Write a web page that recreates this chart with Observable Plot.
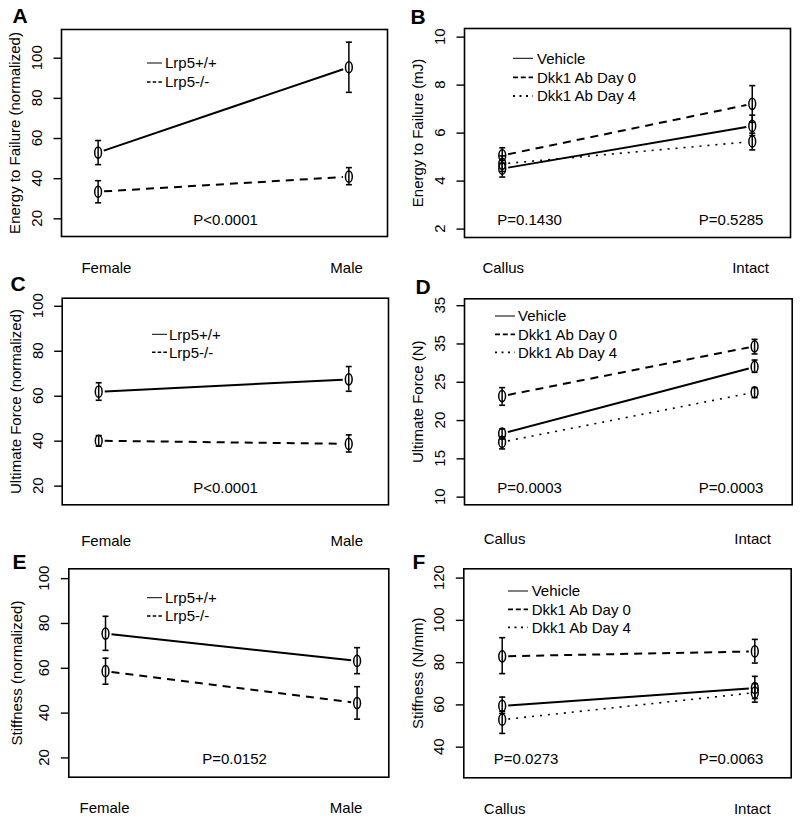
<!DOCTYPE html>
<html><head><meta charset="utf-8">
<script src="https://cdn.jsdelivr.net/npm/d3@7"></script>
<script src="https://cdn.jsdelivr.net/npm/@observablehq/plot@0.6"></script>
<style>
body{margin:0;background:#fff;}
#root{position:relative;width:800px;height:823px;overflow:hidden;font-family:Arial,"Liberation Sans",Helvetica,sans-serif;}
.panel{position:absolute;}
</style>
</head><body><div id="root"></div>
<script>
// ---------------- DATA ----------------
const sexGroups = ["Female", "Male"];
const siteGroups = ["Callus", "Intact"];
const lrpSeries = ["Lrp5+/+", "Lrp5-/-"];
const dkkSeries = ["Vehicle", "Dkk1 Ab Day 0", "Dkk1 Ab Day 4"];

// A: Energy to failure (normalized)
const energyWT = [53, 95.5], energyWTLo = [47, 83], energyWTHi = [59, 108];
const energyKO = [33.5, 41], energyKOLo = [28, 37], energyKOHi = [39, 45.5];
// C: Ultimate force (normalized)
const forceWT = [62, 67.5], forceWTLo = [58.2, 62.2], forceWTHi = [66, 73.2];
const forceKO = [40.2, 38.8], forceKOLo = [37.8, 35.2], forceKOHi = [42.5, 42.8];
// E: Stiffness (normalized)
const stiffWT = [75.5, 63.3], stiffWTLo = [68, 57.6], stiffWTHi = [83.2, 69.2];
const stiffKO = [58.7, 44.5], stiffKOLo = [52.9, 37.3], stiffKOHi = [64.5, 51.8];

// B: Energy to failure (mJ)
const energyVeh = [4.52, 6.3], energyVehLo = [4.17, 5.9], energyVehHi = [4.87, 6.75];
const energyD0 = [5.07, 7.22], energyD0Lo = [4.75, 6.45], energyD0Hi = [5.39, 7.98];
const energyD4 = [4.72, 5.65], energyD4Lo = [4.4, 5.3], energyD4Hi = [5.05, 6.0];
// D: Ultimate force (N)
const forceVeh = [18.3, 27.0], forceVehLo = [17.6, 26.3], forceVehHi = [18.9, 27.9];
const forceD0 = [23.2, 29.7], forceD0Lo = [22.0, 28.7], forceD0Hi = [24.3, 30.6];
const forceD4 = [17.2, 23.7], forceD4Lo = [16.3, 23.0], forceD4Hi = [17.9, 24.3];
// F: Stiffness (N/mm)
const stiffVeh = [59.5, 68], stiffVehLo = [56, 63], stiffVehHi = [63.7, 73.5];
const stiffD0 = [83, 85.3], stiffD0Lo = [74.8, 79.8], stiffD0Hi = [91.8, 91];
const stiffD4 = [53, 65.8], stiffD4Lo = [46.5, 61.3], stiffD4Hi = [57, 70];

// Tick labels
const ticksNorm = [20, 40, 60, 80, 100];
const ticksNormLabels = ["20", "40", "60", "80", "100"];
const ticksB = [2, 4, 6, 8, 10];
const ticksBLabels = ["2", "4", "6", "8", "10"];
const ticksD = [10, 15, 20, 25, 30, 35];
const ticksDLabels = ["10", "15", "20", "25", "35", "35"];
const ticksF = [40, 60, 80, 100, 120];
const ticksFLabels = ["40", "60", "80", "100", "120"];

// P-values
const pA = ["P<0.0001"];
const pB = ["P=0.1430", "P=0.5285"];
const pC = ["P<0.0001"];
const pD = ["P=0.0003", "P=0.0003"];
const pE = ["P=0.0152"];
const pF = ["P=0.0273", "P=0.0063"];

// ---------------- STYLES ----------------
const lrpStyles = [
  {w: 2, dash: null, lw: 1, ldash: null},
  {w: 2, dash: "8,6", lw: 1.6, ldash: "3.5,2.2"}
];
const dkkStyles = [
  {w: 2, dash: null, lw: 1, ldash: null},
  {w: 2, dash: "8,6", lw: 1.8, ldash: "5,2.8"},
  {w: 1.6, dash: "2,6", lw: 1.8, ldash: "2,4.5"}
];

const K = 0.5523;
const ellipseSym = {draw(ctx) {
  const rx = 3.4, ry = 5.6;
  ctx.moveTo(rx, 0);
  ctx.bezierCurveTo(rx, ry * K, rx * K, ry, 0, ry);
  ctx.bezierCurveTo(-rx * K, ry, -rx, ry * K, -rx, 0);
  ctx.bezierCurveTo(-rx, -ry * K, -rx * K, -ry, 0, -ry);
  ctx.bezierCurveTo(rx * K, -ry, rx, -ry * K, rx, 0);
  ctx.closePath();
}};
const capSym = {draw(ctx) { ctx.moveTo(-3, 0); ctx.lineTo(3, 0); }};
const yTickSym = {draw(ctx) { ctx.moveTo(-8, 0); ctx.lineTo(0, 0); }};

function mk(names, means, los, his) {
  return names.map((n, i) => ({name: n, mean: means[i], lo: los[i], hi: his[i]}));
}

const panels = [
  {letter: "A", left: 0, top: 0, H: 275, m: [29, 13, 39, 61], groups: sexGroups,
   series: mk(lrpSeries, [energyWT, energyKO], [energyWTLo, energyKOLo], [energyWTHi, energyKOHi]), styles: lrpStyles,
   yLabel: "Energy to Failure (normalized)", yDomain: [11.2, 114.3], xDomain: [0.854, 2.154],
   ticks: ticksNorm, tickLabels: ticksNormLabels, tickDx: -24.3, titleDx: -46,
   xLabelDy: 25.7, xLabelDx: [8.3, -2.3], legend: {x0: 147, x1: 162, tx: 165, rows: [63, 82]},
   p: pA, pPos: [{x: 225, y: 224, anchor: "middle"}], letterX: 12, letterY: 22.5},
  {letter: "B", left: 400, top: 0, H: 275, m: [28, 10, 38, 64], groups: siteGroups,
   series: mk(dkkSeries, [energyVeh, energyD0, energyD4], [energyVehLo, energyD0Lo, energyD4Lo], [energyVehHi, energyD0Hi, energyD4Hi]), styles: dkkStyles,
   yLabel: "Energy to Failure (mJ)", yDomain: [1.65, 10.36], xDomain: [0.849, 2.153],
   ticks: ticksB, tickLabels: ticksBLabels, tickDx: -24.3, titleDx: -46,
   xLabelDy: 24.7, xLabelDx: [1, -1.7], legend: {x0: 113, x1: 133, tx: 137, rows: [58.3, 77.3, 96]},
   p: pB, pPos: [{x: 96.7, y: 224, anchor: "start"}, {x: 298.3, y: 224, anchor: "start"}], letterX: 10, letterY: 23.3},
  {letter: "C", left: 0, top: 275, H: 275, m: [22.7, 12, 45.7, 61.7], groups: sexGroups,
   series: mk(lrpSeries, [forceWT, forceKO], [forceWTLo, forceKOLo], [forceWTHi, forceKOHi]), styles: lrpStyles,
   yLabel: "Ultimate Force (normalized)", yDomain: [11.7, 103.6], xDomain: [0.854, 2.159],
   ticks: ticksNorm, tickLabels: ticksNormLabels, tickDx: -24.3, titleDx: -46,
   xLabelDy: 30.7, xLabelDx: [7.5, -2], legend: {x0: 152, x1: 167, tx: 169, rows: [59.3, 77.3]},
   p: pC, pPos: [{x: 225, y: 217.3, anchor: "middle"}], letterX: 10, letterY: 15},
  {letter: "D", left: 400, top: 275, H: 275, m: [23.3, 8.3, 45.7, 64], groups: siteGroups,
   series: mk(dkkSeries, [forceVeh, forceD0, forceD4], [forceVehLo, forceD0Lo, forceD4Lo], [forceVehHi, forceD0Hi, forceD4Hi]), styles: dkkStyles,
   yLabel: "Ultimate Force (N)", yDomain: [9.0, 35.9], xDomain: [0.851, 2.149],
   ticks: ticksD, tickLabels: ticksDLabels, tickDx: -24.3, titleDx: -46,
   xLabelDy: 29, xLabelDx: [2.5, -2], legend: {x0: 95, x1: 115, tx: 118, rows: [41, 59.3, 77.3]},
   p: pD, pPos: [{x: 96.7, y: 217.3, anchor: "start"}, {x: 298.3, y: 217.3, anchor: "start"}], letterX: 15, letterY: 18.3},
  {letter: "E", left: 0, top: 550, H: 273, m: [18.3, 11.7, 46.3, 68.3], groups: sexGroups,
   series: mk(lrpSeries, [stiffWT, stiffKO], [stiffWTLo, stiffKOLo], [stiffWTHi, stiffKOHi]), styles: lrpStyles,
   yLabel: "Stiffness (normalized)", yDomain: [11.4, 104.4], xDomain: [0.854, 2.126],
   ticks: ticksNorm, tickLabels: ticksNormLabels, tickDx: -24.3, titleDx: -52,
   xLabelDy: 25, xLabelDx: [-1, -11], legend: {x0: 147, x1: 162, tx: 165, rows: [47.7, 66]},
   p: pE, pPos: [{x: 234, y: 213.3, anchor: "middle"}], letterX: 12, letterY: 18.3},
  {letter: "F", left: 400, top: 550, H: 273, m: [18.3, 9.3, 45.7, 63.3], groups: siteGroups,
   series: mk(dkkSeries, [stiffVeh, stiffD0, stiffD4], [stiffVehLo, stiffD0Lo, stiffD4Lo], [stiffVehHi, stiffD0Hi, stiffD4Hi]), styles: dkkStyles,
   yLabel: "Stiffness (N/mm)", yDomain: [25.5, 124.4], xDomain: [0.848, 2.144],
   ticks: ticksF, tickLabels: ticksFLabels, tickDx: -24.3, titleDx: -46,
   xLabelDy: 26, xLabelDx: [2.5, -2.6], legend: {x0: 108, x1: 128, tx: 131.7, rows: [41, 59.3, 77.3]},
   p: pF, pPos: [{x: 93.3, y: 213.3, anchor: "start"}, {x: 298.3, y: 213.3, anchor: "start"}], letterX: 12, letterY: 18.3}
];

function makePanel(cfg) {
  const [mt, mr, mb, ml] = cfg.m;
  const H = cfg.H;
  const rows = [];
  cfg.series.forEach((s, si) => s.mean.forEach((v, i) => rows.push({si, x: i + 1, mean: v, lo: s.lo[i], hi: s.hi[i]})));
  const tickRows = cfg.ticks.map((v, i) => ({v, label: cfg.tickLabels[i]}));
  const marks = [
    Plot.frame({stroke: "black", strokeWidth: 1.6}),
    // y tick marks (outside the frame, on the left)
    Plot.dot(tickRows, {y: "v", frameAnchor: "left", symbol: yTickSym, stroke: "black", fill: "none", strokeWidth: 1.4}),
    // rotated y tick labels, positioned with the plot's own y scale
    (index, scales) => {
      const g = d3.create("svg:g").attr("text-anchor", "middle").attr("font-size", 15).attr("fill", "black");
      tickRows.forEach(t => {
        g.append("text")
          .attr("transform", `translate(${ml + cfg.tickDx},${scales.y(t.v)}) rotate(-90)`)
          .attr("dy", "0.35em")
          .text(t.label);
      });
      return g.node();
    },
    Plot.text([cfg.yLabel], {text: d => d, frameAnchor: "left", dx: cfg.titleDx, rotate: -90,
      textAnchor: "middle", lineAnchor: "middle", fontSize: 15, fill: "black"}),
    ...cfg.groups.map((g, i) => Plot.text([g], {x: () => i + 1, text: d => d, frameAnchor: "bottom",
      dy: cfg.xLabelDy, dx: cfg.xLabelDx[i], lineAnchor: "top", textAnchor: "middle", fontSize: 15, fill: "black"})),
    ...cfg.series.map((s, si) => Plot.arrow([s], {x1: () => 1, y1: d => d.mean[0], x2: () => 2, y2: d => d.mean[1],
      headLength: 0, inset: 6, stroke: "black", strokeWidth: cfg.styles[si].w,
      strokeDasharray: cfg.styles[si].dash, strokeLinecap: "butt"})),
    Plot.ruleX(rows, {x: "x", y1: "lo", y2: "hi", stroke: "black", strokeWidth: 1.5}),
    Plot.dot(rows, {x: "x", y: "hi", symbol: capSym, stroke: "black", fill: "none", strokeWidth: 1.6}),
    Plot.dot(rows, {x: "x", y: "lo", symbol: capSym, stroke: "black", fill: "none", strokeWidth: 1.6}),
    Plot.dot(rows, {x: "x", y: "mean", symbol: ellipseSym, stroke: "black", fill: "none", strokeWidth: 1.5}),
    ...cfg.p.map((t, i) => Plot.text([t], {text: d => d, frameAnchor: "bottom-left",
      dx: cfg.pPos[i].x - ml, dy: cfg.pPos[i].y - (H - mb), textAnchor: cfg.pPos[i].anchor,
      lineAnchor: "bottom", fontSize: 15, fill: "black"})),
    Plot.text([cfg.letter], {text: d => d, frameAnchor: "top-left", dx: cfg.letterX - ml, dy: cfg.letterY - mt,
      lineAnchor: "bottom", textAnchor: "start", fontWeight: "bold", fontSize: 21, fill: "black"}),
    () => {
      const g = d3.create("svg:g").attr("text-anchor", "start");
      const L = cfg.legend;
      L.rows.forEach((y, i) => {
        const st = cfg.styles[i];
        g.append("line").attr("x1", L.x0).attr("x2", L.x1).attr("y1", y).attr("y2", y)
          .attr("stroke", "black").attr("stroke-width", st.lw)
          .attr("stroke-dasharray", st.ldash);
        g.append("text").attr("x", L.tx).attr("y", y).attr("dy", "0.35em")
          .attr("text-anchor", "start")
          .attr("font-size", 15).attr("fill", "black").text(cfg.series[i].name);
      });
      return g.node();
    }
  ];
  return Plot.plot({
    width: 400, height: H,
    marginTop: mt, marginRight: mr, marginBottom: mb, marginLeft: ml,
    x: {type: "linear", domain: cfg.xDomain, axis: null},
    y: {type: "linear", domain: cfg.yDomain, axis: null},
    style: {fontFamily: 'Arial, "Liberation Sans", Helvetica, sans-serif', fontSize: "15px",
      background: "none", overflow: "visible", color: "black"},
    marks
  });
}

const root = document.getElementById("root");
panels.forEach(cfg => {
  const div = document.createElement("div");
  div.className = "panel";
  div.style.left = cfg.left + "px";
  div.style.top = cfg.top + "px";
  div.appendChild(makePanel(cfg));
  root.appendChild(div);
});
</script>
</body></html>
